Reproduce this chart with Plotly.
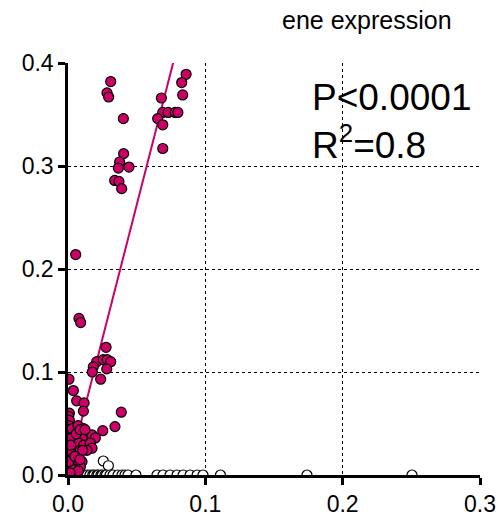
import plotly.graph_objects as go

# Magenta (positive) samples
pos_x = [0.0311, 0.0284, 0.0296, 0.0403, 0.0860, 0.0828, 0.0835, 0.0680, 0.0690, 0.0730,
         0.0780, 0.0800, 0.0653, 0.0690, 0.0690, 0.0405, 0.0376, 0.0367, 0.0444, 0.0340,
         0.0371, 0.0391, 0.0056, 0.0080, 0.0092, 0.0277, 0.0209, 0.0257, 0.0286, 0.0311,
         0.0184, 0.0177, 0.0282, 0.0238, 0.0007, 0.0039, 0.0063, 0.0117, 0.0112, 0.0388,
         0.0342, 0.0253, 0.0010, 0.0005, 0.0010, 0.0005, 0.0010, 0.0005, 0.0010, 0.0030,
         0.0073, 0.0114, 0.0131, 0.0175, 0.0199, 0.0102, 0.0078, 0.0114, 0.0162, 0.0175,
         0.0138, 0.0090, 0.0017, 0.0030, 0.0066, 0.0102, 0.0053, 0.0090, 0.0015, 0.0041,
         0.0075, 0.0005, 0.0060, 0.0087, 0.0124, 0.0050, 0.0020, 0.0107, 0.0087, 0.0015]
pos_y = [0.382, 0.371, 0.367, 0.346, 0.389, 0.381, 0.369, 0.366, 0.352, 0.352,
         0.352, 0.352, 0.346, 0.340, 0.317, 0.312, 0.304, 0.298, 0.299, 0.286,
         0.285, 0.278, 0.214, 0.152, 0.148, 0.124, 0.110, 0.112, 0.112, 0.110,
         0.105, 0.100, 0.103, 0.093, 0.093, 0.082, 0.072, 0.070, 0.062, 0.061,
         0.047, 0.043, 0.060, 0.057, 0.053, 0.048, 0.044, 0.039, 0.035, 0.045,
         0.048, 0.045, 0.040, 0.039, 0.036, 0.036, 0.031, 0.029, 0.031, 0.026,
         0.024, 0.024, 0.021, 0.016, 0.015, 0.013, 0.010, 0.008, 0.008, 0.005,
         0.004, 0.013, 0.040, 0.044, 0.044, 0.018, 0.029, 0.024, 0.015, 0.002]

# White (negative) samples
neg_x = [0.0257, 0.0294,
         0.0000, 0.0020, 0.0050, 0.0080, 0.0117, 0.0140, 0.0160, 0.0180, 0.0190, 0.0210,
         0.0220, 0.0240, 0.0250, 0.0270, 0.0280, 0.0306, 0.0328, 0.0364, 0.0393, 0.0415,
         0.0437, 0.0495, 0.0648, 0.0692, 0.0743, 0.0794, 0.0838, 0.0889, 0.0940, 0.0983,
         0.1110, 0.1740, 0.2505]
neg_y = [0.0136, 0.0090] + [0.0] * 33

# Regression line
fit_slope = 5.2
fit_intercept = 0.002
fit_x = [0.0035, 0.08]
fit_y = [fit_slope * v + fit_intercept for v in fit_x]

x_ticks = [0.0, 0.1, 0.2, 0.3]
y_ticks = [0.0, 0.1, 0.2, 0.3, 0.4]

MAG = "#CC0066"
FONT = "Arial, Liberation Sans, Helvetica, sans-serif"

fig = go.Figure()
fig.add_trace(go.Scatter(x=neg_x, y=neg_y, mode="markers",
                         marker=dict(size=10, color="white", line=dict(color="black", width=1.2)),
                         showlegend=False))
fig.add_trace(go.Scatter(x=fit_x, y=fit_y, mode="lines",
                         line=dict(color=MAG, width=2), showlegend=False))
fig.add_trace(go.Scatter(x=pos_x, y=pos_y, mode="markers",
                         marker=dict(size=10, color=MAG, line=dict(color="black", width=1.2)),
                         showlegend=False))

axis_font = dict(family=FONT, size=23, color="black")
common = dict(showline=True, linecolor="black", linewidth=2.5, ticks="outside",
              ticklen=7, tickwidth=2.5, tickcolor="black", tickfont=axis_font,
              showgrid=True, gridcolor="black", gridwidth=1, griddash="dot",
              zeroline=False, automargin=False)
fig.update_layout(
    width=500, height=517,
    margin=dict(l=68, r=20, t=63, b=42),
    plot_bgcolor="white", paper_bgcolor="white",
    xaxis=dict(range=[0, 0.3], tickvals=x_ticks, ticktext=[f"{v:.1f}" for v in x_ticks], **common),
    yaxis=dict(range=[0, 0.4], tickvals=y_ticks, ticktext=[f"{v:.1f}" for v in y_ticks], **common),
    annotations=[
        dict(text="ene expression", x=(367 - 68) / 412, y=1 + (63 - 20) / 412, xref="paper", yref="paper",
             xanchor="center", yanchor="middle",
             showarrow=False, font=dict(family=FONT, size=25, color="black")),
        dict(text="P<0.0001", x=(473 - 68) / 412, y=(475 - 98) / 412, xref="paper", yref="paper",
             xanchor="right", yanchor="middle",
             showarrow=False, font=dict(family=FONT, size=37, color="black")),
        dict(text="R<sup>2</sup>=0.8", x=(310 - 68) / 412, y=(475 - 142) / 412, xref="paper", yref="paper",
             xanchor="left", yanchor="middle",
             showarrow=False, font=dict(family=FONT, size=37, color="black")),
    ],
)

fig.write_html("out.html")
